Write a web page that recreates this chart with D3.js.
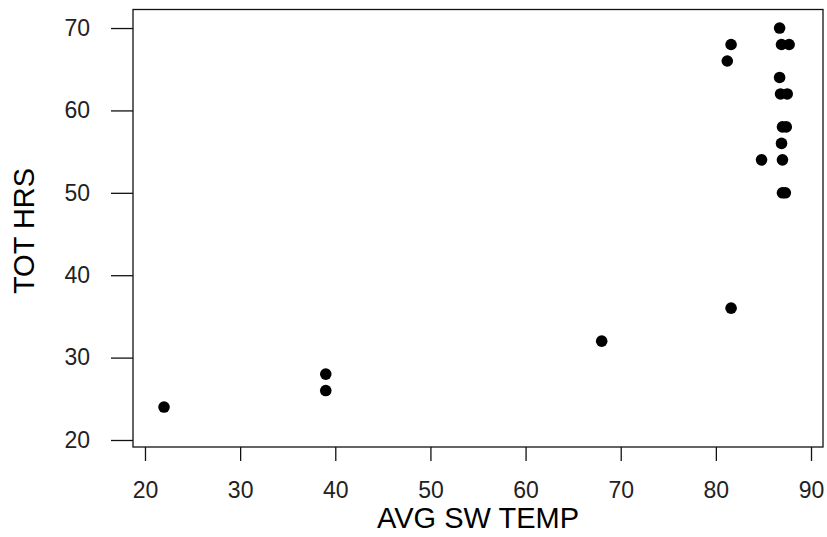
<!DOCTYPE html>
<html>
<head>
<meta charset="utf-8">
<script src="https://cdn.jsdelivr.net/npm/d3@7"></script>
<style>
  html, body { margin: 0; padding: 0; background: #fff; }
  svg { display: block; }
  text { font-family: "Liberation Sans", Arial, sans-serif; }
</style>
</head>
<body>
<svg id="chart" width="827" height="537"></svg>
<script>
// Data: average SW temperature vs total hours
const avgSwTemp = [22, 39, 39, 68, 81.6, 81.2, 81.6, 84.8, 86.7, 86.9, 87.7, 86.7, 86.8, 87.5, 87.0, 87.4, 86.9, 87.0, 87.0, 87.3];
const totHrs    = [24, 28, 26, 32, 36,   66,   68,   54,   70,   68,   68,   64,   62,   62,   58,   58,   56,   54,   50,   50];
const xTicks = [20, 30, 40, 50, 60, 70, 80, 90];
const yTicks = [20, 30, 40, 50, 60, 70];
const xLabel = "AVG SW TEMP";
const yLabel = "TOT HRS";

const svg = d3.select("#chart");
const box = { left: 133, right: 823, top: 9.5, bottom: 447 };

const x = d3.scaleLinear().domain([18.74, 91.26]).range([box.left, box.right]);
const y = d3.scaleLinear().domain([19.15, 72.25]).range([box.bottom, box.top]);

// points
svg.append("g")
  .selectAll("circle")
  .data(avgSwTemp.map((v, i) => [v, totHrs[i]]))
  .join("circle")
  .attr("cx", d => x(d[0]))
  .attr("cy", d => y(d[1]))
  .attr("r", 5.8)
  .attr("fill", "#000");

// box
svg.append("rect")
  .attr("x", box.left).attr("y", box.top)
  .attr("width", box.right - box.left).attr("height", box.bottom - box.top)
  .attr("fill", "none").attr("stroke", "#111").attr("stroke-width", 1.3);

// x axis
const xAxis = svg.append("g")
  .attr("transform", `translate(0,${box.bottom})`)
  .call(d3.axisBottom(x).tickValues(xTicks).tickSize(14).tickSizeOuter(0).tickPadding(21).tickFormat(d3.format("d")));
xAxis.select(".domain").remove();
xAxis.selectAll("line").attr("stroke", "#111").attr("stroke-width", 1.3);
xAxis.selectAll("text").attr("font-size", 23).attr("fill", "#222")
  .attr("font-family", "'Liberation Sans', Arial, sans-serif");

// y axis
const yAxis = svg.append("g")
  .attr("transform", `translate(${box.left},0)`)
  .call(d3.axisLeft(y).tickValues(yTicks).tickSize(22).tickSizeOuter(0).tickPadding(21).tickFormat(d3.format("d")));
yAxis.select(".domain").remove();
yAxis.selectAll("line").attr("stroke", "#111").attr("stroke-width", 1.3);
yAxis.selectAll("text").attr("font-size", 23).attr("fill", "#222")
  .attr("font-family", "'Liberation Sans', Arial, sans-serif");

// axis titles
svg.append("text")
  .attr("x", (box.left + box.right) / 2)
  .attr("y", 528)
  .attr("text-anchor", "middle")
  .attr("font-size", 29)
  .attr("fill", "#000")
  .text(xLabel);

svg.append("text")
  .attr("transform", `translate(34,${231}) rotate(-90)`)
  .attr("text-anchor", "middle")
  .attr("font-size", 29)
  .attr("fill", "#000")
  .text(yLabel);
</script>
</body>
</html>
